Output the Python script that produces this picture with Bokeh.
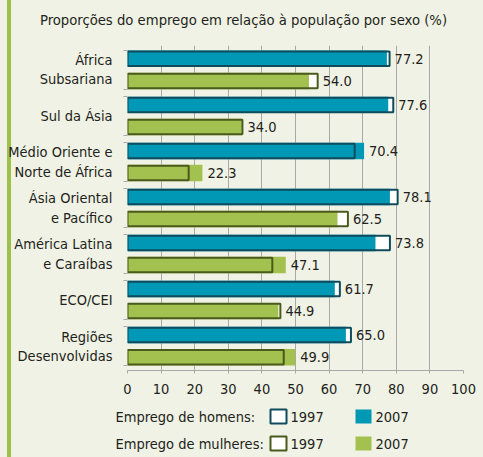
from bokeh.plotting import figure
from bokeh.layouts import column
from bokeh.models import (Range1d, FixedTicker, ColumnDataSource, GlobalInlineStyleSheet)
from bokeh.embed import file_html
from bokeh.resources import INLINE
from bokeh.core.properties import value

# ---------------- data ----------------
regions = ["África\nSubsariana", "Sul da Ásia", "Médio Oriente e\nNorte de África",
           "Ásia Oriental\ne Pacífico", "América Latina\ne Caraíbas", "ECO/CEI",
           "Regiões\nDesenvolvidas"]
men_1997 = [78.0, 79.1, 67.6, 80.4, 78.1, 63.2, 66.5]
men_2007 = [77.2, 77.6, 70.4, 78.1, 73.8, 61.7, 65.0]
women_1997 = [56.6, 34.2, 18.2, 65.6, 43.1, 45.5, 46.5]
women_2007 = [54.0, 34.0, 22.3, 62.5, 47.1, 44.9, 49.9]
x_ticks = [0, 10, 20, 30, 40, 50, 60, 70, 80, 90, 100]
title_text = "Proporções do emprego em relação à população por sexo (%)"
legend_groups = ["Emprego de homens:", "Emprego de mulheres:"]
years = ["1997", "2007"]

# ---------------- style ----------------
FONT = "DejaVu Sans Condensed, DejaVu Sans"
FS = "14.5px"
BG = "#eff2e4"
STRIPE = "#9fbf4b"
TEAL = "#0098b5"
TEAL_DARK = "#0f4b5c"
GREEN = "#a3c14e"
OLIVE = "#4a5a1c"
GRID = "#a8a8a8"
TXT = "#231f20"
W = 483


def blank_fig(h):
    f = figure(width=W, height=h, output_backend="svg", toolbar_location=None,
               x_range=Range1d(0, W), y_range=Range1d(h, 0),
               x_axis_location=None, y_axis_location=None,
               min_border=0, min_border_left=0, min_border_right=0,
               min_border_top=0, min_border_bottom=0, frame_align=False)
    f.grid.visible = False
    f.outline_line_color = None
    f.background_fill_color = None
    f.border_fill_color = None
    return f


# ---------------- title ----------------
t = blank_fig(45)
t.text(x=[243], y=[19], text=[title_text], text_align="center", text_baseline="middle",
       text_font=value(FONT), text_font_size="14.7px", text_color=TXT)
t.stylesheets = [GlobalInlineStyleSheet(css=(
    "body{background:linear-gradient(to right," + BG + " 0px," + BG + " 7px,"
    + STRIPE + " 7px," + STRIPE + " 11px," + BG + " 11px);}"))]

# ---------------- main chart ----------------
n = len(regions)
idx = list(range(n))
men_y = [i + 0.26 for i in idx]
women_y = [i + 0.74 for i in idx]
centers = [i + 0.5 for i in idx]
edges = []
for i in idx:
    edges += [i + 0.08, i + 0.92]

BAR_H = 0.358
OUT_H = 0.315

src = ColumnDataSource(dict(
    men_y=men_y, women_y=women_y,
    m97=men_1997, m07=men_2007, w97=women_1997, w07=women_2007,
    mmax=[max(a, b) for a, b in zip(men_1997, men_2007)],
    wmax=[max(a, b) for a, b in zip(women_1997, women_2007)],
    mlab=[f"{v:.1f}" for v in men_2007],
    wlab=[f"{v:.1f}" for v in women_2007],
))

p = figure(width=W, height=355, output_backend="svg", toolbar_location=None,
           x_range=Range1d(0, 100), y_range=Range1d(7.03, -0.03),
           min_border_left=127, min_border_right=20, min_border_top=0,
           min_border_bottom=30, frame_align=False)
p.background_fill_color = None
p.border_fill_color = None
p.outline_line_color = None

p.xgrid.ticker = FixedTicker(ticks=x_ticks)
p.xgrid.grid_line_color = GRID
p.xgrid.grid_line_width = 1
p.ygrid.visible = False

# men bars
p.hbar(y="men_y", left=0, right="m97", height=BAR_H, source=src,
       fill_color="white", line_color=None)
p.hbar(y="men_y", left=0, right="m07", height=BAR_H, source=src,
       fill_color=TEAL, line_color=None)
p.hbar(y="men_y", left=0, right="m97", height=OUT_H, source=src,
       fill_color=None, line_color=TEAL_DARK, line_width=2)
# women bars
p.hbar(y="women_y", left=0, right="w97", height=BAR_H, source=src,
       fill_color="white", line_color=None)
p.hbar(y="women_y", left=0, right="w07", height=BAR_H, source=src,
       fill_color=GREEN, line_color=None)
p.hbar(y="women_y", left=0, right="w97", height=OUT_H, source=src,
       fill_color=None, line_color=OLIVE, line_width=2)

# value labels
for xcol, ycol, lcol in (("mmax", "men_y", "mlab"), ("wmax", "women_y", "wlab")):
    p.text(x=xcol, y=ycol, text=lcol, source=src, x_offset=5,
           text_baseline="middle", text_align="left", text_font=value(FONT),
           text_font_size=FS, text_color=TXT)

xa = p.xaxis[0]
xa.ticker = FixedTicker(ticks=x_ticks)
xa.axis_line_color = GRID
xa.major_tick_line_color = GRID
xa.major_tick_out = 3
xa.major_tick_in = 0
xa.minor_tick_line_color = None
xa.major_label_standoff = 10
xa.major_label_text_font = FONT
xa.major_label_text_font_size = FS
xa.major_label_text_color = TXT

ya = p.yaxis[0]
ya.ticker = FixedTicker(ticks=centers, minor_ticks=edges)
ya.major_label_overrides = {c: r for c, r in zip(centers, regions)}
ya.axis_line_color = None
ya.major_tick_line_color = None
ya.major_tick_out = 0
ya.major_tick_in = 0
ya.minor_tick_line_color = GRID
ya.minor_tick_out = 4
ya.minor_tick_in = 0
ya.major_label_standoff = 11
ya.major_label_text_font = FONT
ya.major_label_text_font_size = FS
ya.major_label_text_color = TXT
ya.major_label_text_line_height = 1.2

# ---------------- legend ----------------
lg = blank_fig(57)
row_y = [16, 43]
box_x = [278, 363]
out_colors = [TEAL_DARK, OLIVE]
fill_colors = [TEAL, GREEN]
lg.text(x=[115, 115], y=row_y, text=legend_groups, text_align="left",
        text_baseline="middle", text_font=value(FONT), text_font_size=FS,
        text_color=TXT)
lg.rect(x=[box_x[0]] * 2, y=row_y, width=16, height=14, fill_color="white",
        line_color=out_colors, line_width=2)
lg.rect(x=[box_x[1]] * 2, y=row_y, width=16, height=14, fill_color=fill_colors,
        line_color=None)
lg.text(x=[box_x[0] + 12] * 2, y=row_y, text=[years[0]] * 2, text_align="left",
        text_baseline="middle", text_font=value(FONT), text_font_size=FS,
        text_color=TXT)
lg.text(x=[box_x[1] + 12] * 2, y=row_y, text=[years[1]] * 2, text_align="left",
        text_baseline="middle", text_font=value(FONT), text_font_size=FS,
        text_color=TXT)

layout = column(t, p, lg, spacing=0)
open("out.html", "w").write(file_html(layout, INLINE))
